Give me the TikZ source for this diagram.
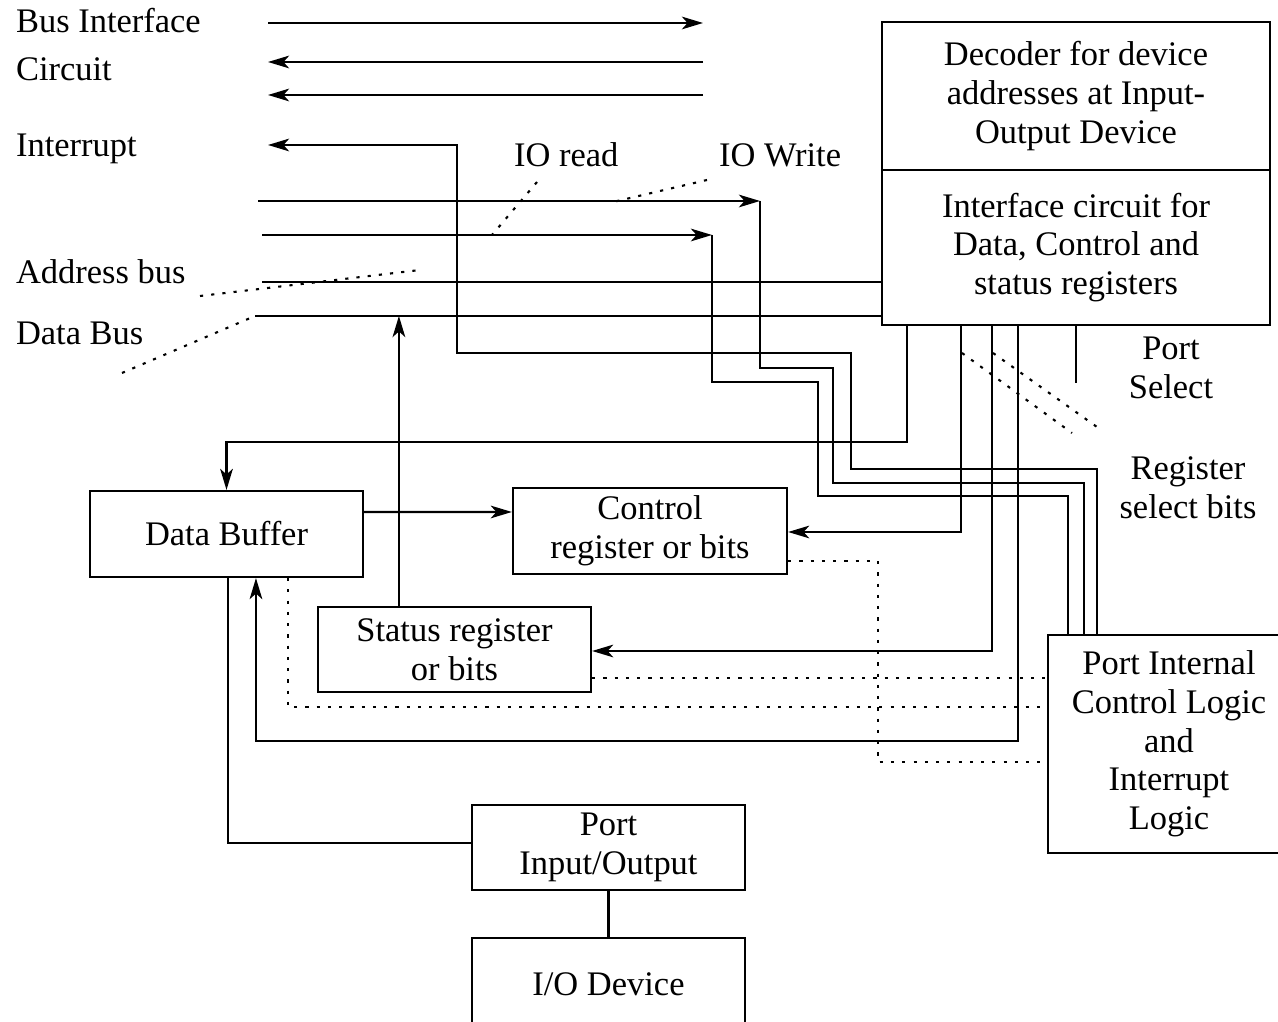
\documentclass[tikz,border=0pt]{standalone}
\usepackage{fontspec}
\setmainfont{Liberation Serif}
\usetikzlibrary{arrows.meta}

\begin{document}
\begin{tikzpicture}[x=0.01cm,y=-0.01cm,line width=0.6pt,
        >={Stealth[length=6pt,width=3.6pt,inset=1.6pt]},
        font=\fontsize{9.8}{11}\selectfont,
        blk/.style={draw,align=center,inner sep=0pt},
        lbl/.style={inner sep=0pt},
        dots/.style={dash pattern=on 0.9pt off 2.3pt}]
        \useasboundingbox (0,0) rectangle (1278,1022);
        % boxes
        \node[blk,minimum width=3.88cm,minimum height=1.48cm] (dec) at (1076,96) {Decoder for device\\addresses at Input-\\Output Device};
        \node[blk,minimum width=3.88cm,minimum height=1.55cm] (intf) at (1076,247.5) {Interface circuit for\\Data, Control and\\status registers};
        \node[blk,minimum width=2.73cm,minimum height=0.86cm] (databuf) at (226.5,534) {Data Buffer};
        \node[blk,minimum width=2.74cm,minimum height=0.86cm] (ctrl) at (650,531) {Control\\register or bits};
        \node[blk,minimum width=2.73cm,minimum height=0.85cm] (stat) at (454.5,649.5) {Status register\\or bits};
        \node[blk,minimum width=2.42cm,minimum height=2.18cm] (pil) at (1169,744) {Port Internal\\Control Logic\\and\\Interrupt\\Logic};
        \node[blk,minimum width=2.73cm,minimum height=0.85cm] (pio) at (608.5,847.5) {Port\\Input/Output};
        \node[blk,minimum width=2.73cm,minimum height=0.92cm] (iodev) at (608.5,984) {I/O Device};

        % lecter
        \node[lbl,anchor=base west] (busif) at (15,33) {Bus Interface};
        \node[lbl,anchor=base west] (circ) at (15,81) {Circuit};
        \node[lbl,anchor=base west] (intr) at (15,157) {Interrupt};
        \node[lbl,anchor=base west] (addr) at (15,284) {Address bus};
        \node[lbl,anchor=base west] (dbus) at (15,345) {Data Bus};
        \node[lbl,anchor=base west] (iord) at (513,167) {IO read};
        \node[lbl,anchor=base west] (iowr) at (718,167) {IO Write};
        \node[lbl,align=center] (psel) at (1171,368) {Port\\Select};
        \node[lbl,align=center] (rsel) at (1188,488) {Register\\select bits};

        % bus lines
        \coordinate (b1l) at (268,23);\coordinate (b1r) at (703,23);
        \coordinate (b2l) at (268,62);\coordinate (b2r) at (703,62);
        \coordinate (b3l) at (268,95);\coordinate (b3r) at (703,95);
        \coordinate (intl) at (268,145);
        \coordinate (iowl) at (258,201);\coordinate (iowc) at (760,201);
        \coordinate (iorl) at (262,235);\coordinate (iorc) at (712,235);
        \coordinate (addrl) at (262,282);
        \coordinate (datl) at (255,316);
        \draw[->] (b1l) -- (b1r);
        \draw[->] (b2r) -- (b2l);
        \draw[->] (b3r) -- (b3l);
        \draw (addrl) -- (addrl -| intf.west);
        \draw (datl) -- (datl -| intf.west);

        % control lines to port logic
        \draw[->] ([xshift=0.5cm]pil.north west) -- ++(0,-165) -| (851,353) -| (457,145) -- (intl);
        \draw[->] (iowl) -- (iowc);
        \draw (iowc) |- (833,368) -- (833,483) -| ([xshift=0.37cm]pil.north west);
        \draw[->] (iorl) -- (iorc);
        \draw (iorc) |- (818,382) -- (818,496) -| ([xshift=0.21cm]pil.north west);

        % interface to registers
        \draw[->] ([xshift=0.26cm]intf.south west) -- ++(0,116) -| (databuf.north);
        \draw[->] ([xshift=0.8cm]intf.south west) |- ([yshift=-0.01cm]ctrl.east);
        \draw[->] ([xshift=1.11cm]intf.south west) |- ([yshift=-0.015cm]stat.east);
        \draw[->] ([xshift=1.37cm]intf.south west) -- ++(0,415) -| ([xshift=1.67cm]databuf.south west);
        \draw (intf.south) -- ++(0,57);
        \draw[->] ([yshift=0.22cm]databuf.east) -- ([yshift=0.19cm]ctrl.west);
        \draw[->] ([xshift=0.82cm]stat.north west) coordinate (stn) -- (stn |- datl);
        \draw ([xshift=0.015cm]databuf.south) |- ([yshift=0.045cm]pio.west);
        \draw (pio) -- (iodev);

        % dotted
        \coordinate (cdot) at (878,762);
        \coordinate (bdot) at (288,707);
        \draw[dots] ([yshift=-0.3cm]ctrl.east) -| (cdot) -- (cdot -| pil.west);
        \draw[dots] ([yshift=-0.285cm]stat.east) coordinate (sdot) -- (sdot -| pil.west);
        \draw[dots] (bdot |- databuf.south) -- (bdot) -- (bdot -| pil.west);
        \coordinate (rdA) at (1072,433);\coordinate (rdB) at (1097,427);
        \coordinate (iordA) at (537,182);\coordinate (iowrA) at (707,180);
        \coordinate (addrA) at (200,296);\coordinate (datA) at (122,373);
        \draw[dots] (iordA) -- (492,235);
        \draw[dots] (iowrA) -- (613,202);
        \draw[dots] (addrA) -- (420,270);
        \draw[dots] (datA) -- (datl);
        \draw[dots] (962,353) -- (rdA);
        \draw[dots] (993,353) -- (rdB);
\end{tikzpicture}
\end{document}
